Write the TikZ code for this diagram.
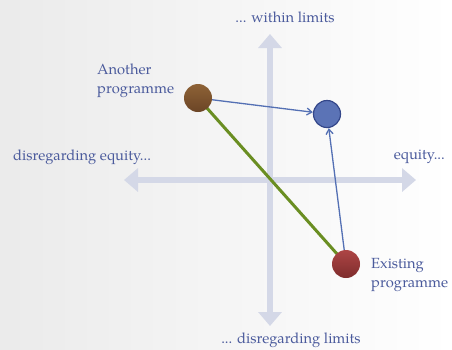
\documentclass[tikz,border=0pt]{standalone}
\usepackage{fontspec}
\setmainfont{TeX Gyre Pagella}
\usetikzlibrary{arrows.meta}
\definecolor{txt}{HTML}{4A5A9C}
\definecolor{axis}{HTML}{D4D8E7}
\definecolor{arr}{HTML}{5470B4}
\definecolor{grn}{HTML}{6A8E22}
\definecolor{brtop}{HTML}{8E6236}
\definecolor{brbot}{HTML}{6B4526}
\definecolor{rdtop}{HTML}{AD4545}
\definecolor{rdbot}{HTML}{7E2C2C}
\definecolor{bfill}{HTML}{5B73B6}
\definecolor{bdraw}{HTML}{34478A}
\tikzset{
  lbl/.style={text=txt,font=\fontsize{14.7}{19}\selectfont,inner sep=0pt},
  axisline/.style={draw=axis,line width=6pt,-{Triangle[width=23pt,length=14pt]}},
  dot/.style={circle,minimum size=28pt,inner sep=0pt},
  conn/.style={draw=arr,line width=1.3pt,-{Straight Barb[length=5pt,width=7pt]}}
}
\begin{document}
\begin{tikzpicture}[x=1pt,y=-1pt]
\shade[left color=black!8,right color=white] (0,0) rectangle (452,349);
\useasboundingbox (0,0) rectangle (452,349);
\coordinate (o) at (270,180);
\coordinate (top) at (270,34);
\coordinate (bot) at (270,326);
\coordinate (lft) at (124,180);
\coordinate (rgt) at (416,180);
\draw[axisline] (o) -- (top);
\draw[axisline] (o) -- (bot);
\draw[axisline] (o) -- (lft);
\draw[axisline] (o) -- (rgt);
\node[dot] (b) at (198,98) {};
\node[dot] (u) at (327,114) {};
\node[dot] (r) at (346,264) {};
\draw[grn,line width=3pt] (b.center) -- (r.center);
\draw[conn] (b) -- (u);
\draw[conn] (r) -- (u);
\node[dot,top color=brtop,bottom color=brbot] at (b) {};
\node[dot,draw=bdraw,line width=1.2pt,fill=bfill,minimum size=27pt] at (u) {};
\node[dot,top color=rdtop,bottom color=rdbot] at (r) {};
\node[lbl] (t1) at (285,17) {... within limits};
\node[lbl] (t2) at (291,340) {... disregarding limits};
\node[lbl,anchor=west] (t3) at (13,157) {disregarding equity...};
\node[lbl,anchor=east] (t4) at (445,157) {equity...};
\node[lbl,anchor=base west,align=left] (t5) at (97,93) {Another\\programme};
\node[lbl,anchor=base west,align=left] (t6) at (371,287) {Existing\\programme};
\end{tikzpicture}
\end{document}
